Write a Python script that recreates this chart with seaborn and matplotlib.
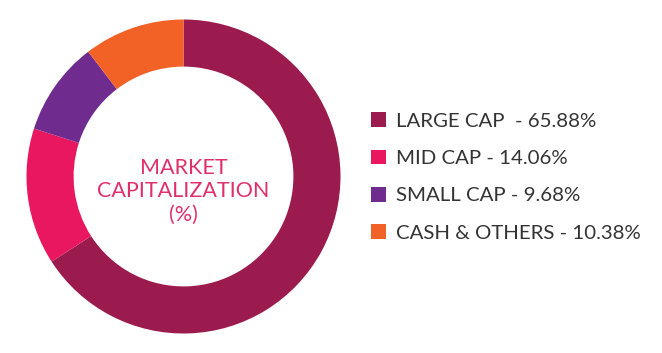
import matplotlib
matplotlib.use("Agg")
import matplotlib.pyplot as plt
import seaborn as sns

categories = ["LARGE CAP", "MID CAP", "SMALL CAP", "CASH & OTHERS"]
values = [65.88, 14.06, 9.68, 10.38]
legend_labels = ["LARGE CAP  - 65.88%", "MID CAP - 14.06%", "SMALL CAP - 9.68%", "CASH & OTHERS - 10.38%"]
colors = ["#9B1B4E", "#E8175F", "#6F2C8E", "#F26125"]
center_text = "MARKET\nCAPITALIZATION\n(%)"

sns.set_theme(style="white")
plt.rcParams["font.family"] = ["Lato", "DejaVu Sans"]
palette = sns.color_palette(colors)

W, H = 662, 353
fig = plt.figure(figsize=(W / 100, H / 100), dpi=100)
fig.patch.set_facecolor("white")

cx, cy, r = 183.5, 176.5, 157
ax = fig.add_axes([(cx - r) / W, (H - cy - r) / H, 2 * r / W, 2 * r / H])
wedges, _ = ax.pie(values, colors=palette, startangle=90, counterclock=False,
                   radius=1.0, wedgeprops=dict(width=0.30, edgecolor="none"))
ax.set_xlim(-1, 1)
ax.set_ylim(-1, 1)
ax.set_aspect("equal")
ax.axis("off")

ax.text(0, -0.095, center_text, ha="center", va="center", fontsize=15.5,
        color="#E0306A", linespacing=1.24, fontweight="normal")

leg = fig.legend(wedges, legend_labels, loc="center left",
                 bbox_to_anchor=(363 / W, 1 - 177 / H), frameon=False,
                 fontsize=14.7, handlelength=0.72, handleheight=0.72,
                 handletextpad=0.5, labelspacing=0.98, borderaxespad=0)
for t in leg.get_texts():
    t.set_color("#333333")

fig.savefig("out.png", dpi=100, facecolor="white")
